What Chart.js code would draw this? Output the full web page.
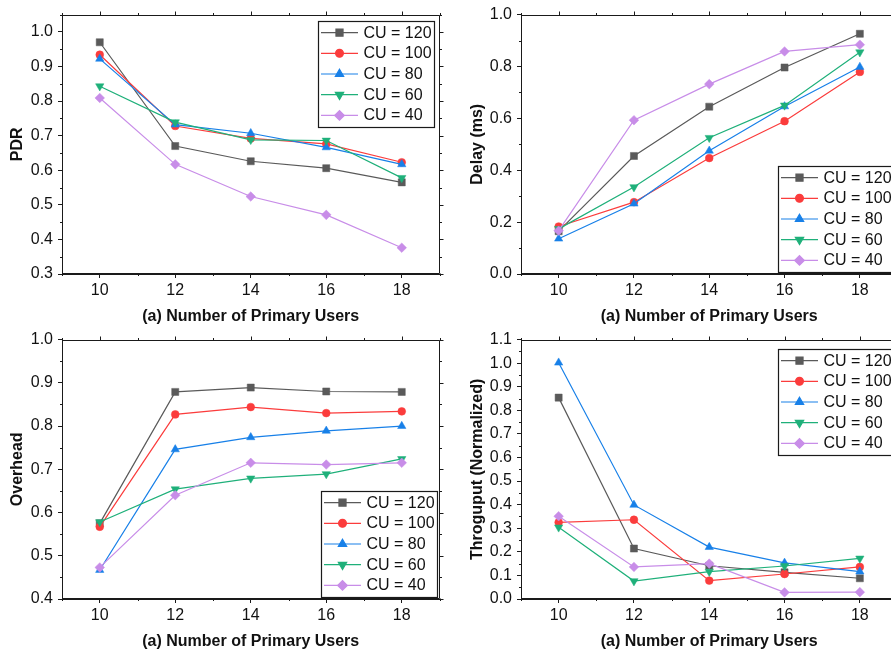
<!DOCTYPE html>
<html>
<head>
<meta charset="utf-8">
<script src="https://cdn.jsdelivr.net/npm/chart.js@4.4.1/dist/chart.umd.min.js"></script>
<style>
html, body { margin: 0; padding: 0; background: #fff; overflow: hidden; width: 891px; height: 653px; }
canvas { position: absolute; }
</style>
</head>
<body>
<canvas id="cPdr" width="445" height="325" style="left:0px;top:0px;width:445px;height:325px"></canvas>
<canvas id="cDelay" width="458" height="325" style="left:445px;top:0px;width:458px;height:325px"></canvas>
<canvas id="cOverhead" width="445" height="325" style="left:0px;top:325px;width:445px;height:325px"></canvas>
<canvas id="cThroughput" width="458" height="325" style="left:445px;top:325px;width:458px;height:325px"></canvas>
<script>
// ---------------- DATA ----------------
const xValues = [10, 12, 14, 16, 18];
const xTickValues = [10, 12, 14, 16, 18];
const seriesNames = ['CU = 120', 'CU = 100', 'CU = 80', 'CU = 60', 'CU = 40'];
const xTitle = '(a) Number of Primary Users';

const pdrCU120 = [0.970, 0.670, 0.626, 0.606, 0.565];
const pdrCU100 = [0.934, 0.728, 0.692, 0.676, 0.623];
const pdrCU80  = [0.922, 0.732, 0.707, 0.666, 0.617];
const pdrCU60  = [0.843, 0.739, 0.688, 0.686, 0.578];
const pdrCU40  = [0.809, 0.617, 0.524, 0.471, 0.376];
const pdrTicks = [0.3, 0.4, 0.5, 0.6, 0.7, 0.8, 0.9, 1.0];

const delayCU120 = [0.165, 0.455, 0.645, 0.796, 0.926];
const delayCU100 = [0.183, 0.277, 0.447, 0.589, 0.779];
const delayCU80  = [0.136, 0.271, 0.475, 0.646, 0.798];
const delayCU60  = [0.174, 0.335, 0.525, 0.650, 0.855];
const delayCU40  = [0.167, 0.593, 0.732, 0.858, 0.884];
const delayTicks = [0.0, 0.2, 0.4, 0.6, 0.8, 1.0];

const overheadCU120 = [0.575, 0.879, 0.889, 0.880, 0.879];
const overheadCU100 = [0.567, 0.827, 0.844, 0.830, 0.834];
const overheadCU80  = [0.467, 0.746, 0.774, 0.789, 0.800];
const overheadCU60  = [0.578, 0.654, 0.679, 0.689, 0.724];
const overheadCU40  = [0.473, 0.640, 0.715, 0.711, 0.715];
const overheadTicks = [0.4, 0.5, 0.6, 0.7, 0.8, 0.9, 1.0];

const throughputCU120 = [0.854, 0.214, 0.141, 0.113, 0.088];
const throughputCU100 = [0.325, 0.336, 0.078, 0.106, 0.136];
const throughputCU80  = [1.002, 0.399, 0.220, 0.153, 0.116];
const throughputCU60  = [0.304, 0.076, 0.116, 0.140, 0.172];
const throughputCU40  = [0.351, 0.136, 0.150, 0.028, 0.029];
const throughputTicks = [0.0, 0.1, 0.2, 0.3, 0.4, 0.5, 0.6, 0.7, 0.8, 0.9, 1.0, 1.1];

// ---------------- STYLE ----------------
const FONT = '"Liberation Sans", Arial, Helvetica, sans-serif';
const seriesColors = ['#5a5a5a', '#fb3c3c', '#1880e8', '#1fb07a', '#c88de8'];
const seriesStyles = [
  { pointStyle: 'rect', radius: 5.0, rotation: 0 },
  { pointStyle: 'circle', radius: 3.9, rotation: 0 },
  { pointStyle: 'triangle', radius: 4.8, rotation: 0 },
  { pointStyle: 'triangle', radius: 4.8, rotation: 180 },
  { pointStyle: 'rectRot', radius: 4.8, rotation: 0 }
];

function buildDatasets(seriesList) {
  return seriesList.map((vals, i) => ({
    label: seriesNames[i],
    data: xValues.map((x, j) => ({ x: x, y: vals[j] })),
    borderColor: seriesColors[i],
    backgroundColor: seriesColors[i],
    pointBackgroundColor: seriesColors[i],
    pointBorderColor: seriesColors[i],
    pointStyle: seriesStyles[i].pointStyle,
    pointRadius: seriesStyles[i].radius,
    pointRotation: seriesStyles[i].rotation,
    pointBorderWidth: 0.5,
    pointHoverRadius: seriesStyles[i].radius,
    borderWidth: 1.2,
    tension: 0,
    fill: false,
    order: seriesList.length - i
  }));
}

// Frame + minor/mirror ticks
const framePlugin = {
  id: 'frameTicks',
  afterDraw(chart, args, opts) {
    const { ctx, chartArea: a } = chart;
    const xs = chart.scales.x, ys = chart.scales.y;
    const L = Math.round(a.left) + 0.5, R = Math.round(a.right) - 0.5;
    const T = Math.round(a.top) + 0.5, B = Math.round(a.bottom) - 0.5;
    ctx.save();
    ctx.strokeStyle = '#1a1a1a';
    ctx.lineWidth = 1;
    ctx.beginPath();
    ctx.rect(L, T, R - L, B - T);
    ctx.stroke();
    const majorLen = 4, minorLen = 2.5;
    ctx.beginPath();
    // x ticks: majors on top, minors on top & bottom
    for (let v = opts.xMin; v <= opts.xMax + 1e-9; v += opts.xMinorStep) {
      const px = Math.round(xs.getPixelForValue(v)) + 0.5;
      const isMajor = xTickValues.some(t => Math.abs(t - v) < 1e-6);
      const len = isMajor ? majorLen : minorLen;
      ctx.moveTo(px, T); ctx.lineTo(px, T - len);
      if (!isMajor) { ctx.moveTo(px, B); ctx.lineTo(px, B + len); }
    }
    // y ticks
    for (let k = 0; ; k++) {
      const v = opts.yMin + k * opts.yMinorStep;
      if (v > opts.yMax + 1e-9) break;
      const py = Math.round(ys.getPixelForValue(v)) + 0.5;
      const isMajor = opts.yMajors.some(t => Math.abs(t - v) < 1e-6);
      const len = isMajor ? majorLen : minorLen;
      ctx.moveTo(R, py); ctx.lineTo(R + len, py);
      if (!isMajor) { ctx.moveTo(L, py); ctx.lineTo(L - len, py); }
    }
    ctx.stroke();
    ctx.restore();
  }
};

// Legend box drawn inside the plot
const legendPlugin = {
  id: 'cuLegend',
  afterDraw(chart, args, opts) {
    const { ctx, chartArea: a } = chart;
    const left = a.left + opts.dx, top = a.top + opts.dy;
    const w = 116, rowH = 20.7, h = 106;
    ctx.save();
    ctx.fillStyle = '#ffffff';
    ctx.fillRect(left, top, w, h);
    ctx.strokeStyle = '#1a1a1a';
    ctx.lineWidth = 1.2;
    ctx.strokeRect(Math.round(left) + 0.5, Math.round(top) + 0.5, w, h);
    chart.data.datasets.forEach((ds, i) => {
      const cy = top + 12 + i * rowH;
      const mx = left + 21.5;
      ctx.strokeStyle = ds.borderColor;
      ctx.lineWidth = 1.2;
      ctx.beginPath();
      ctx.moveTo(mx - 18.5, cy); ctx.lineTo(mx + 18.5, cy);
      ctx.stroke();
      ctx.fillStyle = ds.pointBackgroundColor;
      ctx.strokeStyle = ds.pointBorderColor;
      Chart.helpers.drawPoint(ctx, {
        pointStyle: ds.pointStyle, rotation: ds.pointRotation,
        radius: ds.pointRadius, borderWidth: 0.5
      }, mx, cy);
      ctx.fillStyle = '#111';
      ctx.font = '16px ' + FONT;
      ctx.textAlign = 'left';
      ctx.textBaseline = 'middle';
      ctx.fillText(ds.label, mx + 24, cy + 0.5);
    });
    ctx.restore();
  }
};

function makeChart(id, cfg) {
  const yTicks = cfg.yTicks;
  return new Chart(document.getElementById(id), {
    type: 'line',
    data: { datasets: buildDatasets(cfg.series) },
    plugins: [framePlugin, legendPlugin],
    options: {
      responsive: false,
      animation: false,
      devicePixelRatio: 1,
      layout: { padding: { top: 12, right: 2, left: 0, bottom: 0 } },
      plugins: {
        legend: { display: false },
        tooltip: { enabled: false },
        frameTicks: { xMin: 9, xMax: 19, xMinorStep: 1, yMin: cfg.yMin, yMax: cfg.yMax, yMinorStep: cfg.yMinorStep, yMajors: yTicks },
        cuLegend: cfg.legend
      },
      scales: {
        x: {
          type: 'linear', min: 9, max: 19,
          afterBuildTicks: s => { s.ticks = xTickValues.map(v => ({ value: v })); },
          afterFit: s => { s.height = 51; },
          grid: { display: true, drawOnChartArea: false, drawTicks: true, tickLength: 4, color: '#1a1a1a', lineWidth: 1 },
          border: { display: true, color: '#1a1a1a', width: 1 },
          ticks: { color: '#111', font: { family: FONT, size: 16 }, padding: 3, maxRotation: 0, callback: v => String(v) },
          title: { display: true, text: xTitle, color: '#111', font: { family: FONT, size: 16, weight: 'bold', lineHeight: 1 }, padding: { top: 0, bottom: 0 } }
        },
        y: {
          type: 'linear', min: cfg.yMin, max: cfg.yMax,
          afterBuildTicks: s => { s.ticks = yTicks.map(v => ({ value: v })); },
          afterFit: s => { s.width = cfg.yAxisWidth; },
          grid: { display: true, drawOnChartArea: false, drawTicks: true, tickLength: 4, color: '#1a1a1a', lineWidth: 1 },
          border: { display: true, color: '#1a1a1a', width: 1 },
          ticks: { color: '#111', font: { family: FONT, size: 16 }, padding: 5, callback: v => Number(v).toFixed(1) },
          title: { display: true, text: cfg.yTitle, color: '#111', font: { family: FONT, size: 16, weight: 'bold', lineHeight: 1 }, padding: { top: cfg.yTitlePad, bottom: 0 } }
        }
      }
    }
  });
}

makeChart('cPdr', {
  series: [pdrCU120, pdrCU100, pdrCU80, pdrCU60, pdrCU40],
  yTicks: pdrTicks, yMin: 0.3, yMax: 1.05, yMinorStep: 0.05,
  yTitle: 'PDR', yAxisWidth: 62, yTitlePad: 10,
  legend: { dx: 256, dy: 6 }
});
makeChart('cDelay', {
  series: [delayCU120, delayCU100, delayCU80, delayCU60, delayCU40],
  yTicks: delayTicks, yMin: 0, yMax: 1.0, yMinorStep: 0.1,
  yTitle: 'Delay (ms)', yAxisWidth: 76, yTitlePad: 25,
  legend: { dx: 257, dy: 151 }
});
makeChart('cOverhead', {
  series: [overheadCU120, overheadCU100, overheadCU80, overheadCU60, overheadCU40],
  yTicks: overheadTicks, yMin: 0.4, yMax: 1.0, yMinorStep: 0.05,
  yTitle: 'Overhead', yAxisWidth: 62, yTitlePad: 10,
  legend: { dx: 259, dy: 151 }
});
makeChart('cThroughput', {
  series: [throughputCU120, throughputCU100, throughputCU80, throughputCU60, throughputCU40],
  yTicks: throughputTicks, yMin: 0, yMax: 1.1, yMinorStep: 0.05,
  yTitle: 'Throguput (Normalized)', yAxisWidth: 76, yTitlePad: 25,
  legend: { dx: 257, dy: 9 }
});
</script>
</body>
</html>
